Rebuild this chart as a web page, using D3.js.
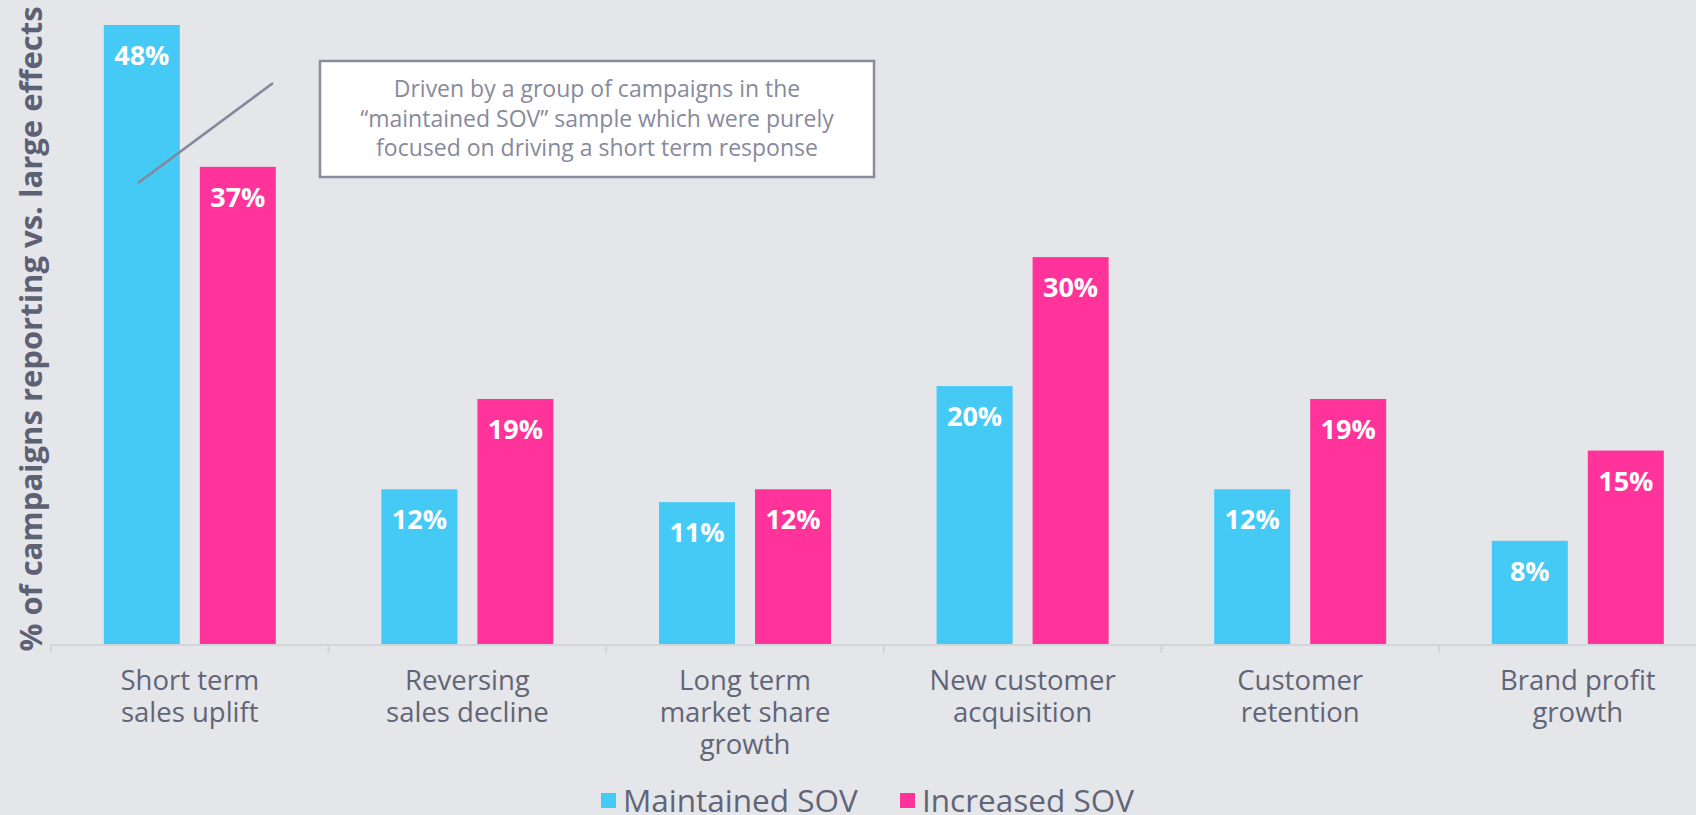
<!DOCTYPE html>
<html lang="en">
<head>
    <meta charset="UTF-8">
    <script src="https://d3js.org/d3.v7.min.js"></script>
    <title>Large effects by SOV</title>
    <style>
        body {
            margin: 0;
            background: #e5e6ea;
            overflow: hidden;
        }
        svg {
            display: block;
            font-family: 'Open Sans', sans-serif;
        }
    </style>
</head>
<body>
    <svg width="1696" height="815"></svg>
    <script>
        // values
        const categories = ['Short term|sales uplift', 'Reversing|sales decline', 'Long term|market share|growth',
            'New customer|acquisition', 'Customer|retention', 'Brand profit|growth'];
        const maintained = [48, 12, 11, 20, 12, 8];
        const increased = [37, 19, 12, 30, 19, 15];
        const seriesNames = ['Maintained SOV', 'Increased SOV'];
        const note = ['Driven by a group of campaigns in the',
            '\u201Cmaintained SOV\u201D sample which were purely',
            'focused on driving a short term response'];

        const colors = ['#45c9f5', '#ff3399'];
        const textGrey = '#626577';

        const svg = d3.select('svg');
        const baseY = 644;

        // band scale runs past the right edge, like the original slide
        const xScale = d3.scaleBand()
            .domain(categories)
            .range([51, 51 + 277.6 * categories.length]);

        const xInner = d3.scaleBand()
            .domain(seriesNames)
            .range([0, xScale.bandwidth()])
            .paddingInner(20 / 96)
            .paddingOuter(52.8 / 96);

        const yScale = d3.scaleLinear()
            .domain([0, 48])
            .range([baseY, 25]);

        const rows = categories.map((c, i) => ({ cat: c, vals: [maintained[i], increased[i]] }));

        // bars
        const groups = svg.selectAll('g.cat')
            .data(rows)
            .enter().append('g')
            .attr('class', 'cat')
            .attr('transform', d => `translate(${xScale(d.cat)},0)`);

        groups.selectAll('rect')
            .data(d => d.vals.map((v, j) => ({ v, s: seriesNames[j], j })))
            .enter().append('rect')
            .attr('x', d => xInner(d.s))
            .attr('y', d => yScale(d.v))
            .attr('width', xInner.bandwidth())
            .attr('height', d => baseY - yScale(d.v))
            .attr('fill', d => colors[d.j]);

        groups.selectAll('text.val')
            .data(d => d.vals.map((v, j) => ({ v, s: seriesNames[j], j })))
            .enter().append('text')
            .attr('class', 'val')
            .attr('x', d => xInner(d.s) + xInner.bandwidth() / 2)
            .attr('y', d => yScale(d.v) + 40)
            .attr('text-anchor', 'middle')
            .attr('fill', '#fff')
            .attr('font-weight', 'bold')
            .attr('font-size', 27)
            .text(d => d.v + '%');

        // x axis: baseline, boundary ticks, wrapped labels
        svg.append('line')
            .attr('x1', xScale.range()[0]).attr('x2', xScale.range()[1])
            .attr('y1', baseY + 1).attr('y2', baseY + 1)
            .attr('stroke', '#d3d5db').attr('stroke-width', 2);

        svg.selectAll('line.tick')
            .data(categories)
            .enter().append('line')
            .attr('class', 'tick')
            .attr('x1', d => xScale(d)).attr('x2', d => xScale(d))
            .attr('y1', baseY).attr('y2', baseY + 9)
            .attr('stroke', '#d3d5db').attr('stroke-width', 2);

        const catLabels = svg.selectAll('text.cat')
            .data(categories)
            .enter().append('text')
            .attr('class', 'cat')
            .attr('text-anchor', 'middle')
            .attr('fill', textGrey)
            .attr('font-size', 27.5);

        catLabels.selectAll('tspan')
            .data(d => d.split('|').map(t => ({ t, d })))
            .enter().append('tspan')
            .attr('x', d => xScale(d.d) + xScale.bandwidth() / 2)
            .attr('y', (d, i) => 690 + i * 32)
            .text(d => d.t);

        // y axis title
        svg.append('text')
            .attr('transform', 'translate(42,329) rotate(-90)')
            .attr('text-anchor', 'middle')
            .attr('fill', '#5e6174')
            .attr('font-weight', 'bold')
            .attr('font-size', 31)
            .text('% of campaigns reporting vs. large effects');

        // annotation with leader line
        svg.append('line')
            .attr('x1', 138).attr('y1', 183)
            .attr('x2', 273).attr('y2', 83)
            .attr('stroke', '#85879a').attr('stroke-width', 2.5);

        svg.append('rect')
            .attr('x', 320).attr('y', 61)
            .attr('width', 554).attr('height', 116)
            .attr('fill', '#fff')
            .attr('stroke', '#8a8c9c').attr('stroke-width', 2.5);

        svg.selectAll('text.note')
            .data(note)
            .enter().append('text')
            .attr('class', 'note')
            .attr('x', 597)
            .attr('y', (d, i) => 97 + i * 29.5)
            .attr('text-anchor', 'middle')
            .attr('fill', '#878a9c')
            .attr('font-size', 23)
            .text(d => d);

        // legend
        const legend = svg.selectAll('g.legend')
            .data(seriesNames)
            .enter().append('g')
            .attr('class', 'legend')
            .attr('transform', (d, i) => `translate(${[601, 900][i]},0)`);

        legend.append('rect')
            .attr('x', 0).attr('y', 793)
            .attr('width', 15).attr('height', 15)
            .attr('fill', (d, i) => colors[i]);

        legend.append('text')
            .attr('x', 22).attr('y', 812)
            .attr('fill', textGrey)
            .attr('font-size', 31.5)
            .text(d => d);
    </script>
</body>
</html>
